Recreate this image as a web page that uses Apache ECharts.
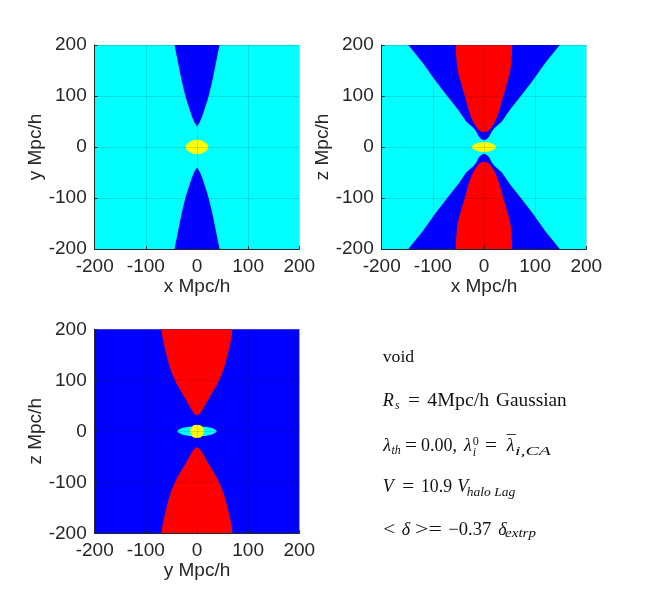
<!DOCTYPE html>
<html>
<head>
<meta charset="utf-8">
<style>html,body{margin:0;padding:0;background:#fff}#container{width:650px;height:600px}</style>
<script src="https://cdn.jsdelivr.net/npm/echarts@6/dist/echarts.min.js"></script>
</head>
<body>
<div id="container"></div>
<script>
// half widths against height: [half width, height], Mpc/h
var xyBlue = [[0, 40], [5, 48], [10, 60], [15, 75], [20, 90], [24, 105], [30, 130], [36, 160], [41, 185], [44, 200]];
var xyYellow = [[0, 14], [8, 13], [15, 10], [20, 6], [22.5, 0]];

var xzBlue = [[0, 13], [5, 15], [10, 20], [15, 30], [20, 37], [35, 50], [50, 72], [72, 100], [95, 130], [120, 165], [148, 200]];
var xzRed = [[0, 29], [5, 30], [10, 33], [15, 39], [20, 47], [25, 58], [30, 72], [35, 90], [40, 108], [45, 125], [50, 143], [53, 160], [54.5, 180], [55, 200]];
var xzYellow = [[0, 10], [10, 9], [18, 6], [23, 2], [24, 0]];

var yzRed = [[0, 31], [5, 34], [10, 41], [15, 50], [20, 59], [30, 76], [40, 93], [50, 116], [56, 135], [61, 155], [65, 172], [68, 187], [69, 200]];
var yzCyan = [[0, 10], [15, 9], [28, 7], [36, 3], [39, 0]];
var yzYellow = [[0, 13], [7, 12], [11, 8], [13, 3], [13, 0]];

var axisMin = -200, axisMax = 200, axisStep = 100;
var xNames = ['x Mpc/h', 'x Mpc/h', 'y Mpc/h'];
var yNames = ['y Mpc/h', 'z Mpc/h', 'z Mpc/h'];

// text, x, baseline y, font size, italic, target width
var noteText = [
    ['void', 382.7, 362.7, 17.5, false, 31.5],
    ['R', 382.7, 406.7, 18, true],
    ['s', 395, 409.5, 12, true],
    ['=', 408, 406.7, 18, false, 12],
    ['4Mpc/h', 427.3, 406.7, 18, false, 62],
    ['Gaussian', 496, 406.7, 18, false, 70.7],
    ['λ', 383.3, 451.7, 18, true],
    ['th', 391.5, 454.5, 12, true],
    ['=', 405, 451.7, 18, false, 12],
    ['0.00,', 421, 451.7, 18, false, 36],
    ['λ', 464, 451.7, 18, true],
    ['0', 472.7, 445, 12, false],
    ['i', 472.7, 456, 12, true],
    ['=', 485, 451.7, 18, false, 12],
    ['¯', 506.7, 448, 18, false],
    ['λ', 506.7, 451.7, 18, true],
    ['i,CA', 515, 455.5, 13, true, 36],
    ['V', 382.7, 492.7, 18, true],
    ['=', 402.3, 492.7, 18, false, 12],
    ['10.9', 421, 492.7, 18, false, 31],
    ['V', 457.3, 492.7, 18, true],
    ['halo Lag', 466.7, 496, 12, true, 48.5],
    ['<', 383.3, 535, 18, false, 12],
    ['δ', 401.7, 535, 18, true],
    ['>=', 415, 535, 18, false, 27],
    ['−0.37', 448.3, 535, 18, false, 43],
    ['δ', 498.3, 535, 18, true],
    ['extrp', 505, 537.5, 12, true, 31]
];

var CYAN = '#00ffff', BLUE = '#0000ff', RED = '#ff0000', YELLOW = '#ffff00';
var SERIF = '"Liberation Serif"';

var boxes = [
    {left: 94.7, top: 45, bg: CYAN},
    {left: 381.7, top: 45, bg: CYAN},
    {left: 94.7, top: 329.3, bg: BLUE}
];

// mirror a half profile left/right, on one side of the x axis
function lobe(profile, sign) {
    var pts = [];
    profile.forEach(function (p) { pts.push([p[0], sign * p[1]]); });
    profile.slice().reverse().forEach(function (p) { pts.push([-p[0], sign * p[1]]); });
    return pts;
}

// same profile, but closed over both sides of the axis
function blob(profile) {
    return lobe(profile, 1).concat(lobe(profile, -1).reverse());
}

function region(idx, pts, color) {
    return {
        type: 'custom',
        xAxisIndex: idx,
        yAxisIndex: idx,
        silent: true,
        animation: false,
        z: 2,
        data: [pts[0]],
        renderItem: function (params, api) {
            return {
                type: 'polygon',
                shape: {points: pts.map(function (p) { return api.coord(p); })},
                style: {fill: color, stroke: null}
            };
        }
    };
}

function axis(idx, name, gap) {
    return {
        type: 'value',
        gridIndex: idx,
        min: axisMin,
        max: axisMax,
        interval: axisStep,
        z: 5,
        name: name,
        nameLocation: 'middle',
        nameGap: gap,
        nameTextStyle: {color: '#262626', fontSize: 19, fontFamily: 'Liberation Sans'},
        axisLine: {onZero: false, lineStyle: {color: '#262626', width: 1}},
        axisTick: {inside: true, length: 3, lineStyle: {color: '#262626', width: 1}},
        axisLabel: {color: '#262626', fontSize: 19, fontFamily: 'Liberation Sans', margin: 8, hideOverlap: false, showMinLabel: true, showMaxLabel: true},
        splitLine: {show: true, lineStyle: {color: 'rgba(0,0,0,0.12)', width: 1}}
    };
}

var series = [
    region(0, lobe(xyBlue, 1), BLUE),
    region(0, lobe(xyBlue, -1), BLUE),
    region(0, blob(xyYellow), YELLOW),

    region(1, lobe(xzBlue, 1), BLUE),
    region(1, lobe(xzBlue, -1), BLUE),
    region(1, lobe(xzRed, 1), RED),
    region(1, lobe(xzRed, -1), RED),
    region(1, blob(xzYellow), YELLOW),

    region(2, lobe(yzRed, 1), RED),
    region(2, lobe(yzRed, -1), RED),
    region(2, blob(yzCyan), CYAN),
    region(2, blob(yzYellow), YELLOW)
];

// stretch the serif runs to the widths in the picture
var measure = document.createElement('canvas').getContext('2d');
var notes = noteText.map(function (t) {
    var scale = 1;
    if (t[5]) {
        measure.font = (t[4] ? 'italic ' : '') + t[3] + 'px ' + SERIF;
        scale = t[5] / measure.measureText(t[0]).width;
    }
    return {
        type: 'text',
        x: t[1],
        y: t[2] - 0.28 * t[3],
        scaleX: scale,
        silent: true,
        style: {
            text: t[0],
            fontFamily: 'Liberation Serif',
            fontSize: t[3],
            fontStyle: t[4] ? 'italic' : 'normal',
            fill: '#111',
            align: 'left',
            verticalAlign: 'middle'
        }
    };
});

var chart = echarts.init(document.getElementById('container'), null, {renderer: 'canvas'});
chart.setOption({
    animation: false,
    backgroundColor: '#fff',
    grid: boxes.map(function (b) {
        return {left: b.left, top: b.top, width: 204.6, height: 204, show: true, backgroundColor: b.bg, borderWidth: 0};
    }),
    xAxis: boxes.map(function (b, i) { return axis(i, xNames[i], 26); }),
    yAxis: boxes.map(function (b, i) { return axis(i, yNames[i], 42); }),
    series: series,
    graphic: notes
});
</script>
</body>
</html>
